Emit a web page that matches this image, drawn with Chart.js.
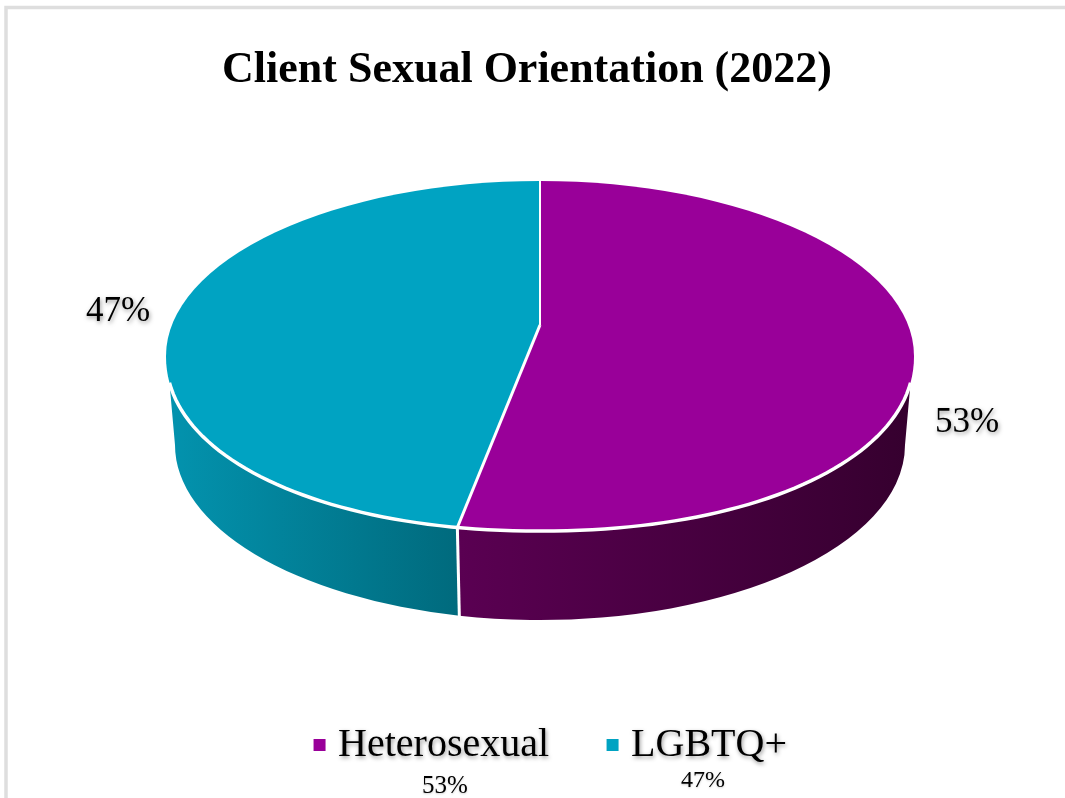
<!DOCTYPE html>
<html>
<head>
<meta charset="utf-8">
<style>html,body{margin:0;padding:0;background:#fff}canvas{display:block}</style>
<script src="https://cdn.jsdelivr.net/npm/chart.js@4/dist/chart.umd.js"></script>
</head>
<body>
<canvas id="c" width="1065" height="798"></canvas>
<script>
const categories = ['Heterosexual', 'LGBTQ+'];
const values = [53, 47];
const topColors = ['#990099', '#00A3C2'];
const wallStops = [['#5a0052', '#36002f'], ['#006a7d', '#0392ad']];
const SERIF = '"Liberation Serif","Times New Roman",serif';

const TOP = {cx: 540, cy: 356, rx: 374, ry: 175};
const BOTTOM = {cx: 540, cy: 445, rx: 365, ry: 175};
const APEX = {x: 540, y: 325};
const FILL = {rx: 520, ry: 243};
const RIM_START = 8 * Math.PI / 180;
const BULGE = 2 / 2.1;

function shadowOn(ctx) {
  ctx.shadowColor = 'rgba(0,0,0,0.4)';
  ctx.shadowBlur = 4;
  ctx.shadowOffsetX = 1;
  ctx.shadowOffsetY = 2;
}
function pt(e, t) { return [e.cx + e.rx * Math.cos(t), e.cy + e.ry * Math.sin(t)]; }
// front of the disc is slightly fuller than an ellipse
function rimPt(t) {
  const c = Math.cos(t), s = Math.sin(t);
  return [TOP.cx + TOP.rx * Math.sign(c) * Math.pow(Math.abs(c), BULGE),
          TOP.cy + TOP.ry * Math.pow(Math.abs(s), BULGE)];
}
// parameter on the front rim where a slice edge leaving the apex meets it
function rimParam(angle) {
  const dx = Math.cos(angle) * FILL.rx, dy = Math.sin(angle) * FILL.ry;
  let lo = 0, hi = Math.PI;
  for (let i = 0; i < 40; i++) {
    const m = (lo + hi) / 2, p = rimPt(m);
    const cross = dx * (p[1] - APEX.y) - dy * (p[0] - APEX.x);
    if (cross < 0) lo = m; else hi = m;
  }
  return (lo + hi) / 2;
}
function traceRim(ctx, a, b, first) {
  const n = 90;
  for (let i = 0; i <= n; i++) {
    const p = rimPt(a + (b - a) * i / n);
    if (i === 0 && first) ctx.moveTo(p[0], p[1]); else ctx.lineTo(p[0], p[1]);
  }
}
function wrapBox(chart, box, dx, dy, textDx) {
  const orig = box.draw.bind(box);
  box.draw = function (area) {
    const ctx = chart.ctx;
    ctx.save();
    ctx.translate(dx, dy);
    if (textDx !== undefined) {
      const ft = ctx.fillText;
      ctx.fillText = function (s, x, y, m) {
        ctx.save(); shadowOn(ctx);
        if (m === undefined) ft.call(ctx, s, x + textDx, y); else ft.call(ctx, s, x + textDx, y, m);
        ctx.restore();
      };
      orig(area);
      delete ctx.fillText;
    } else {
      orig(area);
    }
    ctx.restore();
  };
}

const pie3d = {
  id: 'pie3d',
  afterInit(chart) {
    wrapBox(chart, chart.titleBlock, -5.5, 34);
    wrapBox(chart, chart.legend, 21.5, -23, -7.5);
  },
  beforeDraw(chart) {
    const ctx = chart.ctx;
    ctx.save();
    ctx.strokeStyle = '#dedede';
    ctx.lineWidth = 3.5;
    ctx.beginPath();
    ctx.moveTo(6, 810); ctx.lineTo(6, 7.5); ctx.lineTo(1080, 7.5);
    ctx.stroke();
    ctx.restore();
  },
  beforeDatasetsDraw(chart) {
    const ctx = chart.ctx;
    const arcs = chart.getDatasetMeta(0).data;
    const seam = rimParam(arcs[0].endAngle);
    const s0 = rimPt(seam);
    const bSeam = Math.acos((s0[0] - TOP.cx) / TOP.rx);
    const s1 = pt(BOTTOM, bSeam);
    const spans = [[RIM_START, seam, 0, bSeam], [seam, Math.PI - RIM_START, bSeam, Math.PI]];
    spans.forEach((sp, i) => {
      const [a, b, bA, bB] = sp;
      const left = pt(BOTTOM, bB)[0];
      const right = pt(BOTTOM, bA)[0];
      const g = ctx.createLinearGradient(left, 0, right, 0);
      g.addColorStop(0, i === 0 ? wallStops[0][0] : wallStops[1][1]);
      g.addColorStop(1, i === 0 ? wallStops[0][1] : wallStops[1][0]);
      ctx.beginPath();
      traceRim(ctx, a, b, true);
      ctx.ellipse(BOTTOM.cx, BOTTOM.cy, BOTTOM.rx, BOTTOM.ry, 0, bB, bA, true);
      ctx.closePath();
      ctx.fillStyle = g;
      ctx.fill();
    });
    ctx.save();
    ctx.strokeStyle = '#fff';
    ctx.lineWidth = 3;
    ctx.beginPath(); ctx.moveTo(s0[0], s0[1]); ctx.lineTo(s1[0], s1[1] + 1); ctx.stroke();
    ctx.restore();

    // library-drawn slices, mapped onto the tilted disc
    const arc = arcs[0];
    ctx.save();
    ctx.beginPath();
    ctx.ellipse(TOP.cx, TOP.cy, TOP.rx, TOP.ry, 0, Math.PI, Math.PI * 2);
    traceRim(ctx, 0, Math.PI, false);
    ctx.closePath();
    ctx.clip();
    ctx.translate(APEX.x, APEX.y);
    ctx.scale(FILL.rx / arc.outerRadius, FILL.ry / arc.outerRadius);
    ctx.translate(-arc.x, -arc.y);
  },
  afterDatasetsDraw(chart) {
    const ctx = chart.ctx;
    ctx.restore();
    const arcs = chart.getDatasetMeta(0).data;
    const seam = rimParam(arcs[0].endAngle);
    ctx.save();
    ctx.strokeStyle = '#fff';
    ctx.lineWidth = 2;
    ctx.beginPath(); ctx.moveTo(APEX.x, APEX.y); ctx.lineTo(APEX.x, TOP.cy - TOP.ry); ctx.stroke();
    ctx.lineWidth = 3;
    const p = rimPt(seam);
    ctx.beginPath(); ctx.moveTo(APEX.x, APEX.y); ctx.lineTo(p[0], p[1]); ctx.stroke();
    ctx.lineWidth = 3.5;
    ctx.beginPath();
    traceRim(ctx, RIM_START, Math.PI - RIM_START, true);
    ctx.stroke();
    ctx.restore();
  },
  afterDraw(chart) {
    const ctx = chart.ctx;
    ctx.save();
    ctx.fillStyle = '#000';
    ctx.textAlign = 'center';
    ctx.textBaseline = 'middle';
    shadowOn(ctx);
    ctx.font = '35px ' + SERIF;
    ctx.fillText(values[0] + '%', 967, 423);
    ctx.fillText(values[1] + '%', 118, 312);
    ctx.shadowColor = 'rgba(0,0,0,0.2)';
    ctx.shadowBlur = 2;
    ctx.shadowOffsetX = 0;
    ctx.shadowOffsetY = 1;
    ctx.font = '25px ' + SERIF;
    ctx.fillText(values[0] + '%', 445, 786);
    ctx.font = '24px ' + SERIF;
    ctx.fillText(values[1] + '%', 703, 781);
    ctx.restore();
  }
};

new Chart(document.getElementById('c'), {
  type: 'pie',
  data: {
    labels: categories,
    datasets: [{data: values, backgroundColor: topColors, borderWidth: 0, clip: false}]
  },
  options: {
    responsive: false,
    animation: false,
    events: [],
    plugins: {
      title: {
        display: true,
        text: 'Client Sexual Orientation (2022)',
        color: '#000',
        font: {family: SERIF, size: 44, weight: 'bold'},
        padding: {top: 10, bottom: 10}
      },
      legend: {
        display: true,
        position: 'bottom',
        labels: {
          color: '#000',
          font: {family: SERIF, size: 40},
          boxWidth: 12,
          boxHeight: 12,
          padding: 50
        }
      },
      tooltip: {enabled: false}
    }
  },
  plugins: [pie3d]
});
</script>
</body>
</html>
